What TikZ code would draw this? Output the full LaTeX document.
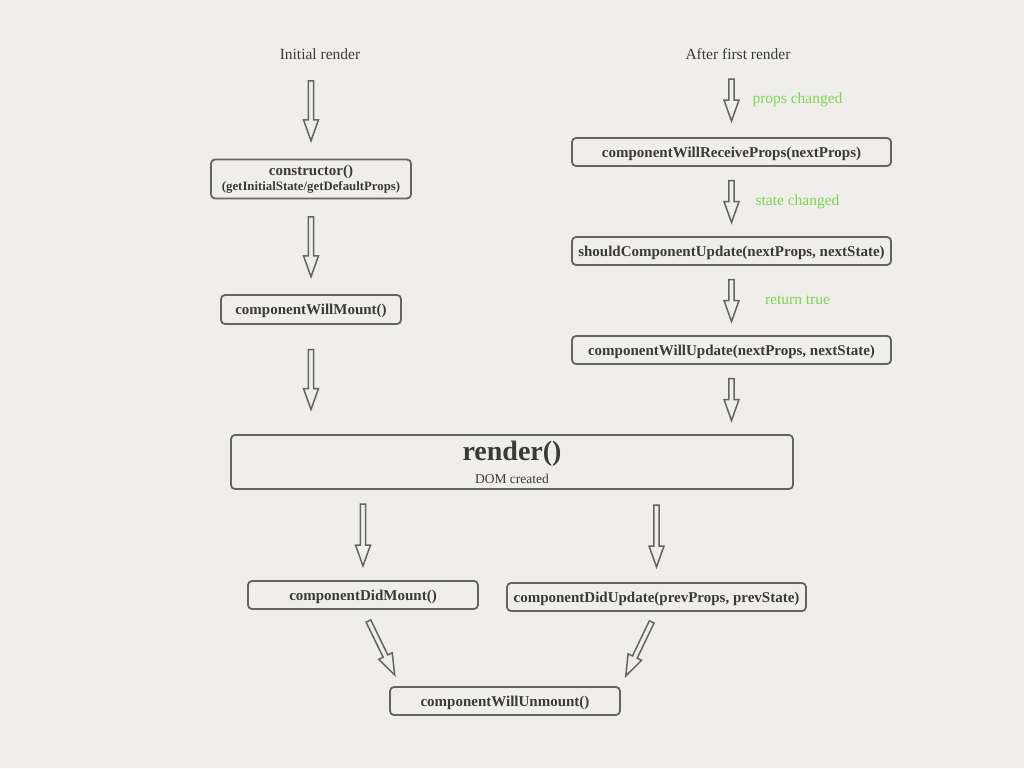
\documentclass[tikz,border=0pt]{standalone}
\usepackage{fontspec}
\setmainfont{Liberation Serif}
\usepackage{tikz}
\usetikzlibrary{decorations.markings}

\definecolor{paper}{RGB}{240,238,234}
\definecolor{boxline}{RGB}{100,100,100}
\definecolor{boxtext}{RGB}{58,58,58}
\definecolor{notegreen}{RGB}{128,212,84}

\begin{document}
\begin{tikzpicture}[x=1pt, y=-1pt,
	box/.style={draw=boxline, line width=1.8pt, rounded corners=4pt, fill=paper, text=boxtext, font=\bfseries\fontsize{15}{17}\selectfont, minimum height=28pt, inner sep=0pt, align=center, text height=11pt, text depth=1pt},
	title/.style={text=boxtext, font=\fontsize{15.5}{17}\selectfont},
	note/.style={text=notegreen, font=\fontsize{15.5}{17}\selectfont},
	bigarrow/.style={decoration={markings, mark=at position 0.5 with {
		\draw[draw=boxline, line width=1.5pt, fill=paper] (-#1*0.5pt,2.6pt) -- (#1*0.5pt-21pt,2.6pt) -- (#1*0.5pt-21pt,7.5pt) -- (#1*0.5pt,0pt) -- (#1*0.5pt-21pt,-7.5pt) -- (#1*0.5pt-21pt,-2.6pt) -- (-#1*0.5pt,-2.6pt) -- cycle;}},
		postaction=decorate}]
	\fill[paper] (0,0) rectangle (1024,768);
	
	\node[title] (initial) at (320,54) {Initial render};
	\node[title] (after) at (738,54) {After first render};
	
	\node[box, text height=, text depth=, minimum width=200pt, minimum height=39pt] (ctor) at (311,179) {constructor()\\[-2pt]{\fontsize{12.8}{14}\selectfont (getInitialState/getDefaultProps)}};
	\node[box, minimum width=180pt, minimum height=29pt] (willmount) at (311,309.5) {componentWillMount()};
	\node[box, minimum width=319pt] (receive) at (731.5,152) {componentWillReceiveProps(nextProps)};
	\node[box, minimum width=319pt] (should) at (731.5,251) {shouldComponentUpdate(nextProps, nextState)};
	\node[box, minimum width=319pt] (willupdate) at (731.5,350) {componentWillUpdate(nextProps, nextState)};
	\node[box, text height=, text depth=, minimum width=562pt, minimum height=54pt] (render) at (512,462) {{\fontsize{28}{30}\selectfont render()}\\[6pt]{\mdseries\fontsize{13.5}{15}\selectfont DOM created}};
	\node[box, minimum width=230pt] (didmount) at (363,595) {componentDidMount()};
	\node[box, minimum width=299pt] (didupdate) at (656.5,597) {componentDidUpdate(prevProps, prevState)};
	\node[box, minimum width=230pt] (unmount) at (505,701) {componentWillUnmount()};
	
	\path[bigarrow=60] (ctor.north |- initial.south) -- (ctor.north);
	\path[bigarrow=60] (ctor.south) -- (willmount.north);
	\path[bigarrow=60] (willmount.south) -- (willmount.south |- render.north);
	
	\path[bigarrow=42] (receive.north |- after.south) -- (receive.north) node[note, midway, xshift=66pt] {props changed};
	\path[bigarrow=42] (receive.south) -- (should.north) node[note, midway, xshift=66pt] {state changed};
	\path[bigarrow=42] (should.south) -- (willupdate.north) node[note, midway, xshift=66pt] {return true};
	\path[bigarrow=42] (willupdate.south) -- (willupdate.south |- render.north);
	
	\path[bigarrow=62] (didmount.north |- render.south) -- (didmount.north);
	\path[bigarrow=62] (didupdate.north |- render.south) -- (didupdate.north);
	\path[bigarrow=60] (didmount.south) -- ([xshift=11pt]unmount.north west);
	\path[bigarrow=60] (didupdate.south) -- (unmount.north east);
\end{tikzpicture}
\end{document}
